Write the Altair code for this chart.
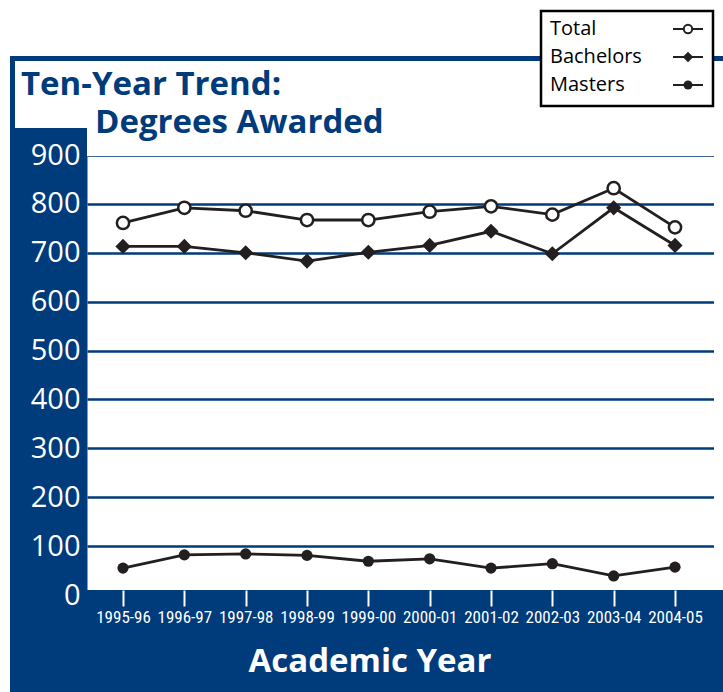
import json
import altair as alt
import pandas as pd

# Academic years and degree counts per year
years = ["1995-96", "1996-97", "1997-98", "1998-99", "1999-00",
         "2000-01", "2001-02", "2002-03", "2003-04", "2004-05"]
total = [761, 792, 786, 767, 767, 784, 795, 778, 832, 752]
bachelors = [713, 713, 700, 683, 701, 715, 744, 698, 792, 715]
masters = [55, 82, 84, 81, 69, 74, 55, 64, 39, 57]
series_names = ["Total", "Bachelors", "Masters"]
y_ticks = [0, 100, 200, 300, 400, 500, 600, 700, 800, 900]

BLUE = "#003b7b"
INK = "#231f20"
FONT = "Open Sans"
NARROW = "Roboto Condensed, Liberation Sans Narrow, DejaVu Sans Condensed, Roboto"

W, H = 628, 440  # plot area

rows = []
for name, vals in zip(series_names, [total, bachelors, masters]):
    for i, (yr, v) in enumerate(zip(years, vals)):
        rows.append({"idx": i, "year": yr, "series": name, "degrees": v})
df = pd.DataFrame(rows)

one = pd.DataFrame({"k": [0]})

# year positions on an index scale, labelled with the academic years
year_label = json.dumps(years) + "[datum.value]"
x_enc = alt.X("idx:Q",
              scale=alt.Scale(domain=[-0.587, 9.652], nice=False, zero=False),
              axis=alt.Axis(title=None, values=list(range(len(years))),
                            labelExpr=year_label, labelAngle=0,
                            labelColor="white", labelFont=NARROW,
                            labelFontSize=17, labelFontWeight="normal",
                            tickColor="white", tickSize=16,
                            tickWidth=2, domain=False, grid=False, offset=-5,
                            labelPadding=3, labelOverlap=False, zindex=1))
y_enc = alt.Y("degrees:Q", scale=alt.Scale(domain=[0, 900], nice=False),
              axis=alt.Axis(title=None, values=y_ticks, labelColor="white",
                            labelFont=FONT, labelFontSize=29, labelPadding=7,
                            ticks=False, domain=False, grid=True,
                            gridColor=BLUE, gridWidth=2.5))


def box(x1, x2, y1, y2, **style):
    return alt.Chart(one).mark_rect(**style).encode(
        x=alt.value(x1), x2=alt.value(x2), y=alt.value(y1), y2=alt.value(y2))


# white cut-outs of the blue frame
frame = [
    box(-87, 636, -155, -99, color="white"),   # above the top rule
    box(-87, -77, -155, 537, color="white"),   # left margin
    box(-72, 636, -94, -27, color="white"),    # title panel
    box(0, 636, -28, 1, color="white"),        # gap above the plot
    box(627, 636, -1, 436, color="white"),     # right margin beside grid
    box(-1, 636, 435, 442, color=BLUE),        # baseline strip
]

lines = alt.Chart(df).mark_line(color=INK, strokeWidth=2.8).encode(
    x=x_enc, y=y_enc, detail="series:N")

pts_total = alt.Chart(df).transform_filter(alt.datum.series == "Total").mark_point(
    shape="circle", filled=True, fill="white", stroke=INK, strokeWidth=2.5,
    size=150, opacity=1).encode(x=x_enc, y=y_enc)
pts_bach = alt.Chart(df).transform_filter(alt.datum.series == "Bachelors").mark_point(
    shape="diamond", filled=True, color=INK, size=230, opacity=1).encode(x=x_enc, y=y_enc)
pts_mast = alt.Chart(df).transform_filter(alt.datum.series == "Masters").mark_point(
    shape="circle", filled=True, color=INK, size=125, opacity=1).encode(x=x_enc, y=y_enc)

# chart heading and axis caption
heading = [
    alt.Chart(one).mark_text(text="Ten-Year Trend:", align="left", baseline="alphabetic",
                             font=FONT, fontWeight="bold", fontSize=33, color=BLUE
                             ).encode(x=alt.value(-66), y=alt.value(-60)),
    alt.Chart(one).mark_text(text="Degrees Awarded", align="left", baseline="alphabetic",
                             font=FONT, fontWeight="bold", fontSize=33, color=BLUE
                             ).encode(x=alt.value(8), y=alt.value(-22)),
    alt.Chart(one).mark_text(text="Academic Year", align="center", baseline="middle",
                             font=FONT, fontWeight="bold", fontSize=33, color="white"
                             ).encode(x=alt.value(283), y=alt.value(507)),
]

# legend box
legend = [box(454, 626, -144, -49, fill="white", stroke="black", strokeWidth=2.5)]
leg_shapes = [
    dict(shape="circle", filled=True, fill="white", stroke=INK, strokeWidth=2, size=70),
    dict(shape="diamond", filled=True, color=INK, size=110),
    dict(shape="circle", filled=True, color=INK, size=80),
]
for i, (name, sty) in enumerate(zip(series_names, leg_shapes)):
    yy = -126 + 28 * i
    legend.append(alt.Chart(one).mark_text(
        text=name, align="left", baseline="middle", font=FONT, fontSize=20,
        color="black").encode(x=alt.value(463), y=alt.value(yy)))
    legend.append(alt.Chart(one).mark_rule(color=INK, strokeWidth=2).encode(
        x=alt.value(586), x2=alt.value(616), y=alt.value(yy)))
    legend.append(alt.Chart(one).mark_point(opacity=1, **sty).encode(
        x=alt.value(601), y=alt.value(yy)))

chart = alt.layer(
    *frame, lines, pts_total, pts_bach, pts_mast, *heading, *legend
).properties(
    width=W, height=H,
    autosize=alt.AutoSizeParams(type="none"),
    padding={"left": 87, "top": 155, "right": 8, "bottom": 97},
    background=BLUE,
).configure_view(fill="white", strokeOpacity=0)

chart.save("out.html", embed_options={"renderer": "svg", "actions": False})
